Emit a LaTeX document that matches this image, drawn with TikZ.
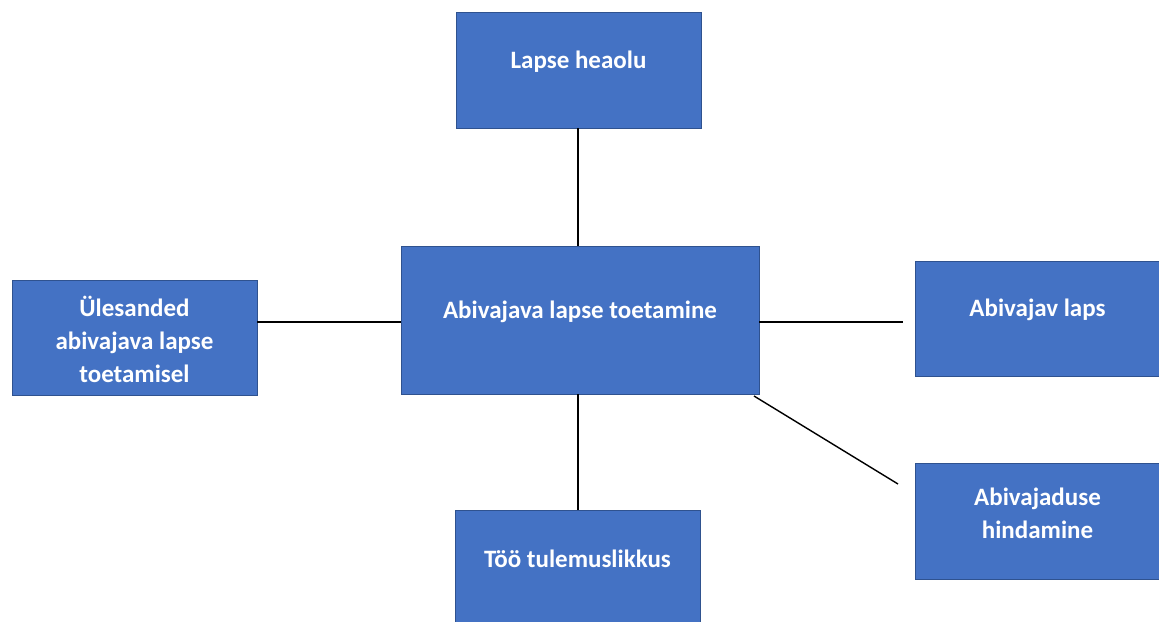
\documentclass[tikz,border=0pt]{standalone}
\usepackage{fontspec}
\setmainfont{Carlito}
\usepackage{xcolor}
\usepackage{tikz}
\usetikzlibrary{positioning}
\definecolor{boxblue}{HTML}{4472C4}
\definecolor{boxline}{HTML}{2F528F}

\begin{document}
\begin{tikzpicture}
    [x=1pt, y=-1pt,
      % Stil fuer die Kaesten
      box/.style={rectangle, fill=boxblue, draw=boxline, line width=0.8pt, minimum width=245pt, minimum height=116pt, inner sep=0pt},
      bigbox/.style={box, minimum width=358pt, minimum height=148pt},
      % Stil fuer die Beschriftung
      txt/.style={text=white, font=\fontsize{25}{33}\selectfont\bfseries, align=center, inner sep=0pt},
      % Stil fuer die Linien
      con/.style={draw=black, line width=1.4pt}]
    \useasboundingbox (0,0) rectangle (1159,621);
    % Kaesten
    \node[bigbox] (mid) at (580,320) {};
    \node[box] (heaolu) at (578.5,70) {};
    \node[box, minimum height=115pt] (ylesanded) at (134.5,337.5) {};
    \node[box, minimum height=115pt] (laps) at (1037.5,318.5) {};
    \node[box] (hindamine) at (1037.5,521) {};
    \node[box, minimum height=124pt] (tulemus) at (577.5,572) {};
    % Texte
    \node[txt] (midtxt) at (580,312) {Abivajava lapse toetamine};
    \node[txt] (heaolutxt) at (578.5,62) {Lapse heaolu};
    \node[txt] (ylesandedtxt) at (134.5,339) {Ülesanded\\abivajava lapse\\toetamisel};
    \node[txt] (lapstxt) at (1037.5,310) {Abivajav laps};
    \node[txt] (hindaminetxt) at (1037.5,513) {Abivajaduse\\hindamine};
    \node[txt] (tulemustxt) at (577.5,559) {Töö tulemuslikkus};
    % freie Enden
    \coordinate (lapsend) at (903,322);
    \coordinate (hindend) at (898,484);
    \coordinate (midcorner) at (754,396);
    % Linien
    \path[con]
      (heaolu.south -| 578,0) edge (mid.north -| 578,0)
      (mid.south -| 578,0) edge (tulemus.north -| 578,0)
      (ylesanded.east |- lapsend) edge (mid.west |- lapsend)
      (mid.east |- lapsend) edge (lapsend)
      (midcorner) edge (hindend);
\end{tikzpicture}
\end{document}
